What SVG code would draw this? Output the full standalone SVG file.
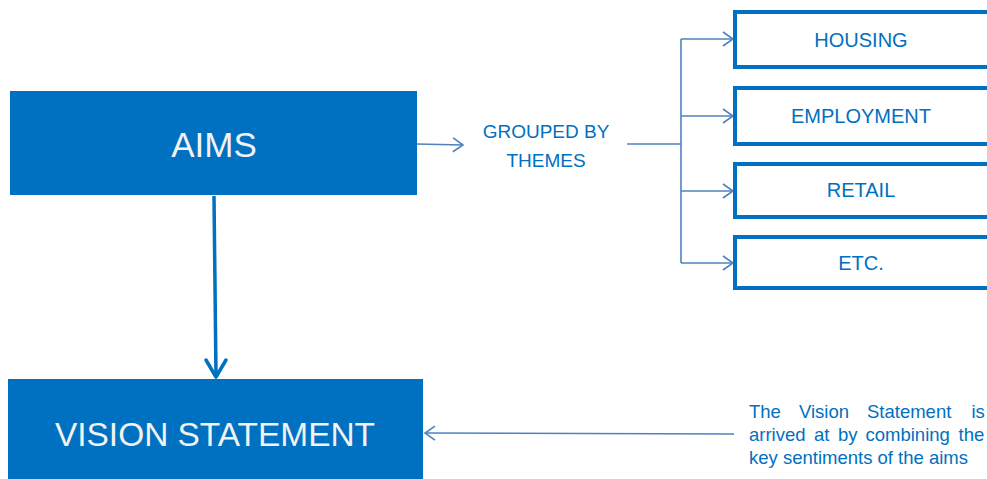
<svg xmlns="http://www.w3.org/2000/svg" width="987" height="479" viewBox="0 0 987 479">
<style>
.solid{fill:#0070C0;}
.theme{fill:#ffffff;stroke:#0070C0;stroke-width:4;}
.big{font-family:"Liberation Sans",Arial,sans-serif;fill:#F2F2F2;text-anchor:middle;}
.lbl{font-family:"Liberation Sans",Arial,sans-serif;fill:#0070C0;font-size:19px;text-anchor:middle;}
.tl{font-size:20px;}
.note{font-family:"Liberation Sans",Arial,sans-serif;fill:#0070C0;font-size:18.5px;}
.thin{fill:none;stroke:#4F81BD;stroke-width:1.6;}
.thick{fill:none;stroke:#0070C0;stroke-width:3.5;}
</style>
<defs>
<marker id="openThin" viewBox="0 0 12 16" refX="11" refY="8" markerWidth="12" markerHeight="16" markerUnits="userSpaceOnUse" orient="auto">
<path d="M1,1 L11,8 L1,15" fill="none" stroke="#4F81BD" stroke-width="1.6"/>
</marker>
</defs>

<g id="connectors">
<path class="thin" d="M417,144 L463,145" marker-end="url(#openThin)"/>
<path class="thin" d="M627,144 L681,144"/>
<path class="thin" d="M681,39 L681,263"/>
<path class="thin" d="M681,39 L733,39" marker-end="url(#openThin)"/>
<path class="thin" d="M681,116 L733,116" marker-end="url(#openThin)"/>
<path class="thin" d="M681,191 L733,191" marker-end="url(#openThin)"/>
<path class="thin" d="M681,263 L733,263" marker-end="url(#openThin)"/>
<path class="thin" d="M734,434 L425,433" marker-end="url(#openThin)"/>
<line x1="214" y1="196" x2="216" y2="376" class="thick"/>
<path d="M206,360 L216,377 L226,360" fill="none" stroke="#0070C0" stroke-width="3.5" stroke-linecap="round" stroke-linejoin="round"/>
</g>

<g id="aims">
<rect class="solid" x="10" y="91" width="407" height="104"/>
<text class="big" x="214" y="157" font-size="35">AIMS</text>
</g>

<g id="vision">
<rect class="solid" x="8" y="379" width="415" height="100"/>
<text class="big" x="215" y="446" font-size="34" textLength="320" lengthAdjust="spacingAndGlyphs">VISION STATEMENT</text>
</g>

<g id="grouped">
<text class="lbl" x="546" y="138">GROUPED BY</text>
<text class="lbl" x="546" y="167">THEMES</text>
</g>

<g id="housing">
<rect class="theme" x="735" y="12" width="262" height="55"/>
<text class="lbl tl" x="861" y="47">HOUSING</text>
</g>
<g id="employment">
<rect class="theme" x="735" y="88" width="262" height="56"/>
<text class="lbl tl" x="861" y="123">EMPLOYMENT</text>
</g>
<g id="retail">
<rect class="theme" x="735" y="164" width="262" height="53"/>
<text class="lbl tl" x="861" y="197">RETAIL</text>
</g>
<g id="etc">
<rect class="theme" x="735" y="237" width="262" height="51"/>
<text class="lbl tl" x="861" y="270">ETC.</text>
</g>

<g id="note">
<text class="note" y="418"><tspan x="749">The</tspan> <tspan x="799">Vision</tspan> <tspan x="867">Statement</tspan> <tspan x="971.5">is</tspan></text>
<text class="note" y="441"><tspan x="749">arrived</tspan> <tspan x="814">at</tspan> <tspan x="838">by</tspan> <tspan x="865.5">combining</tspan> <tspan x="958.5">the</tspan></text>
<text class="note" x="749" y="464">key sentiments of the aims</text>
</g>
</svg>
